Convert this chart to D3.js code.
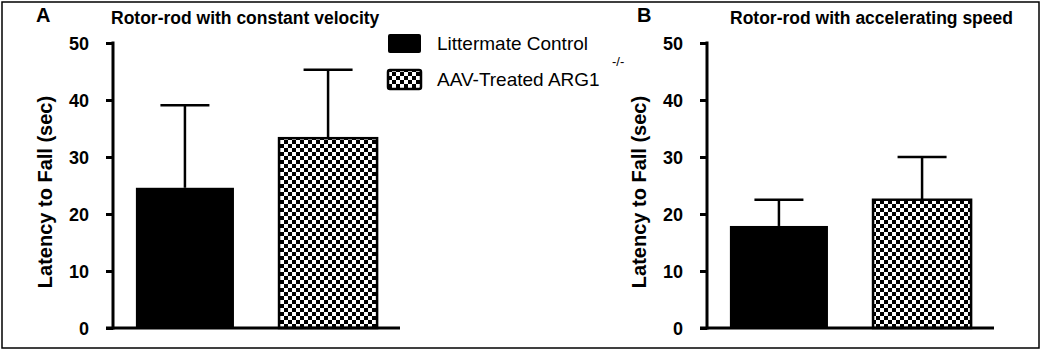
<!DOCTYPE html>
<html>
<head>
<meta charset="utf-8">
<script src="https://cdn.jsdelivr.net/npm/d3@7"></script>
<style>
  body { margin: 0; background: #fff; }
  text { font-family: "Liberation Sans", Arial, sans-serif; fill: #000; }
  .tick-label { font-size: 18px; font-weight: bold; }
  .ylabel { font-size: 20px; font-weight: bold; }
  .title { font-size: 17.5px; font-weight: bold; }
  .panel-letter { font-size: 20px; font-weight: bold; }
  .legend { font-size: 19px; }
</style>
</head>
<body>
<div id="chart"></div>
<script>
//Data
const groups = ["Littermate Control", "AAV-Treated ARG1"];
const yTicks = [0, 10, 20, 30, 40, 50];
//Panel A - constant velocity (mean and SEM)
const constantMean = [24.6, 33.3];
const constantSem = [14.5, 12.0];
//Panel B - accelerating speed
const accelMean = [17.9, 22.5];
const accelSem = [4.6, 7.5];

const width = 1050;
const height = 358;

const svg = d3.select("#chart")
    .append("svg")
    .attr("width", width)
    .attr("height", height);

//Checkerboard pattern for treated group
const defs = svg.append("defs");
const pat = defs.append("pattern")
    .attr("id", "checker")
    .attr("patternUnits", "userSpaceOnUse")
    .attr("width", 8)
    .attr("height", 8);
pat.append("rect").attr("width", 8).attr("height", 8).attr("fill", "#fff");
pat.append("rect").attr("width", 4).attr("height", 4).attr("fill", "#000");
pat.append("rect").attr("x", 4).attr("y", 4).attr("width", 4).attr("height", 4).attr("fill", "#000");

//Outer frame
svg.append("rect")
    .attr("x", 2)
    .attr("y", 2)
    .attr("width", 1037)
    .attr("height", 346)
    .attr("fill", "none")
    .attr("stroke", "#000")
    .attr("stroke-width", 1.5);

const yScale = d3.scaleLinear()
    .domain([0, 50])
    .range([328, 43]);

function drawPanel(axisX, means, sems, letter, letterX, title, titleX) {
    const g = svg.append("g");

    const xScale = d3.scaleBand()
        .domain(groups)
        .range([axisX, axisX + 287])
        .paddingInner(0.315)
        .paddingOuter(0.16);

    //Bars
    g.selectAll("rect.bar")
        .data(groups)
        .enter()
        .append("rect")
        .attr("class", "bar")
        .attr("x", d => xScale(d))
        .attr("y", (d, i) => yScale(means[i]))
        .attr("width", xScale.bandwidth())
        .attr("height", (d, i) => yScale(0) - yScale(means[i]))
        .attr("fill", (d, i) => i === 0 ? "#000" : "url(#checker)")
        .attr("stroke", "#000")
        .attr("stroke-width", (d, i) => i === 0 ? 0 : 2.5);

    //Error bars (upper only)
    groups.forEach((d, i) => {
        const cx = xScale(d) + xScale.bandwidth() / 2;
        g.append("line")
            .attr("x1", cx).attr("x2", cx)
            .attr("y1", yScale(means[i]))
            .attr("y2", yScale(means[i] + sems[i]))
            .attr("stroke", "#000")
            .attr("stroke-width", 2.5);
        g.append("line")
            .attr("x1", cx - 24.5).attr("x2", cx + 24.5)
            .attr("y1", yScale(means[i] + sems[i]))
            .attr("y2", yScale(means[i] + sems[i]))
            .attr("stroke", "#000")
            .attr("stroke-width", 2.5);
    });

    //Y axis
    const yAxis = d3.axisLeft(yScale)
        .tickValues(yTicks)
        .tickSize(7)
        .tickSizeOuter(0)
        .tickPadding(17);
    const ax = g.append("g")
        .attr("transform", "translate(" + axisX + ",0)")
        .call(yAxis);
    ax.select(".domain").attr("stroke-width", 3).attr("d", "M0," + (yScale(0) + 1.5) + "V" + (yScale(50) - 1.5));
    ax.selectAll(".tick line").attr("stroke-width", 3);
    ax.selectAll(".tick text").attr("class", "tick-label").attr("font-family", null).attr("font-size", null).attr("dy", "0.36em");

    //X axis line
    g.append("line")
        .attr("x1", axisX - 7)
        .attr("x2", axisX + 287)
        .attr("y1", yScale(0))
        .attr("y2", yScale(0))
        .attr("stroke", "#000")
        .attr("stroke-width", 3);

    //Y label
    g.append("text")
        .attr("class", "ylabel")
        .attr("transform", "translate(" + (axisX - 61) + "," + 192 + ") rotate(-90)")
        .attr("text-anchor", "middle")
        .text("Latency to Fall (sec)");

    //Panel letter and title
    g.append("text")
        .attr("class", "panel-letter")
        .attr("x", letterX)
        .attr("y", 22)
        .text(letter);

    g.append("text")
        .attr("class", "title")
        .attr("x", titleX)
        .attr("y", 24)
        .text(title);
}

drawPanel(113, constantMean, constantSem, "A", 36, "Rotor-rod with constant velocity", 111);
drawPanel(707, accelMean, accelSem, "B", 637, "Rotor-rod with accelerating speed", 730);

//Legend
const legend = svg.append("g");
legend.selectAll("rect")
    .data(groups)
    .enter()
    .append("rect")
    .attr("x", 388)
    .attr("y", (d, i) => 34 + i * 36)
    .attr("width", 33)
    .attr("height", 19)
    .attr("rx", 2)
    .attr("fill", (d, i) => i === 0 ? "#000" : "url(#checker)")
    .attr("stroke", "#000")
    .attr("stroke-width", (d, i) => i === 0 ? 0 : 2.5);

legend.selectAll("text.legend")
    .data(groups)
    .enter()
    .append("text")
    .attr("class", "legend")
    .attr("x", 437)
    .attr("y", (d, i) => 50 + i * 36)
    .text(d => d);

legend.append("text")
    .attr("x", 612)
    .attr("y", 66)
    .style("font-size", "13px")
    .text("-/-");
</script>
</body>
</html>
